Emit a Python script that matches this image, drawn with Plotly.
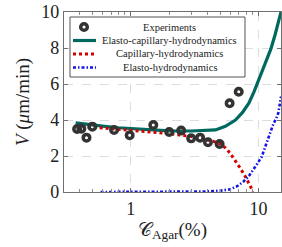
import plotly.graph_objects as go

# Experimental data
exp_x = [0.38, 0.41, 0.45, 0.50, 0.74, 0.98, 1.50, 2.00, 2.48, 2.97, 3.49, 4.02, 4.96, 5.94, 7.00]
exp_v = [3.50, 3.52, 3.02, 3.63, 3.44, 3.15, 3.72, 3.33, 3.41, 2.98, 3.02, 2.76, 2.67, 4.93, 5.57]

# Elasto-capillary-hydrodynamics model
ech_x = [0.37, 0.45, 0.6, 0.8, 1.0, 1.5, 2.0, 3.0, 4.0, 4.6, 5.5, 6.6, 7.5, 8.4, 9.2, 9.8, 10.5, 11.0, 11.7, 12.5, 13.5, 14.3, 15.0]
ech_v = [3.84, 3.76, 3.66, 3.57, 3.52, 3.44, 3.40, 3.39, 3.41, 3.45, 3.65, 4.00, 4.42, 4.93, 5.55, 6.04, 6.55, 6.96, 7.33, 7.95, 8.75, 9.40, 10.0]

# Capillary-hydrodynamics model
ch_x = [0.46, 0.6, 0.8, 1.0, 1.5, 2.0, 3.0, 3.5, 4.0, 4.5, 5.0, 5.5, 6.0, 6.5, 7.2, 7.8, 8.3, 8.7, 9.0]
ch_v = [3.62, 3.55, 3.47, 3.42, 3.32, 3.24, 3.08, 2.98, 2.88, 2.80, 2.68, 2.45, 2.15, 1.80, 1.32, 0.92, 0.57, 0.28, 0.0]

# Elasto-hydrodynamics model
eh_x = [0.58, 1.0, 2.0, 3.0, 4.0, 5.0, 6.0, 6.8, 7.6, 8.4, 9.1, 9.8, 10.6, 11.4, 12.3, 13.1, 13.8, 14.3, 15.0]
eh_v = [0.0, 0.0, 0.0, 0.01, 0.03, 0.07, 0.15, 0.32, 0.57, 0.88, 1.22, 1.58, 1.96, 2.55, 3.26, 3.80, 4.10, 4.40, 5.30]

y_ticks = [0, 2, 4, 6, 8, 10]
x_ticks = [1, 10]
x_minor = [0.3, 0.4, 0.5, 0.6, 0.7, 0.8, 0.9, 2, 3, 4, 5, 6, 7, 8, 9]

legend_names = ["Experiments", "Elasto-capillary-hydrodynamics", "Capillary-hydrodynamics", "Elasto-hydrodynamics"]

GREEN = "#00695f"
RED = "#d40000"
BLUE = "#1414e6"
MK = "#333333"
FONT = "Liberation Serif"

fig = go.Figure()
fig.add_trace(go.Scatter(x=ech_x, y=ech_v, mode="lines", line=dict(color=GREEN, width=3.2), showlegend=False))
fig.add_trace(go.Scatter(x=ch_x, y=ch_v, mode="lines", line=dict(color=RED, width=3, dash="3px,3px"), showlegend=False))
fig.add_trace(go.Scatter(x=eh_x, y=eh_v, mode="lines", line=dict(color=BLUE, width=2.6, dash="3px,2px,1.5px,2px"), showlegend=False))
fig.add_trace(go.Scatter(x=exp_x, y=exp_v, mode="markers",
                         marker=dict(symbol="circle-open", size=6.5, color=MK, line=dict(color=MK, width=3.5)),
                         showlegend=False, cliponaxis=False))

# Manual legend (centered text, as in the original)
L, R, T, B = 64, 281, 12, 192
W, H = R - L, B - T
def px(x):
    return (x - L) / W
def py(y):
    return (B - y) / H

fig.add_shape(type="rect", xref="paper", yref="paper", x0=px(70), x1=px(245), y0=py(77), y1=py(17),
              line=dict(color="#555555", width=1), fillcolor="white", layer="above")
rows = [27, 40.5, 54, 67.5]
fig.add_shape(type="circle", xref="paper", yref="paper", x0=px(80.7), x1=px(87.3), y0=py(rows[0] + 3.3), y1=py(rows[0] - 3.3),
              line=dict(color=MK, width=3.5), fillcolor="white", layer="above")
fig.add_shape(type="line", xref="paper", yref="paper", x0=px(73), x1=px(96), y0=py(rows[1]), y1=py(rows[1]),
              line=dict(color=GREEN, width=3.2), layer="above")
fig.add_shape(type="line", xref="paper", yref="paper", x0=px(73), x1=px(96), y0=py(rows[2]), y1=py(rows[2]),
              line=dict(color=RED, width=3, dash="3px,3px"), layer="above")
fig.add_shape(type="line", xref="paper", yref="paper", x0=px(73), x1=px(96), y0=py(rows[3]), y1=py(rows[3]),
              line=dict(color=BLUE, width=2.6, dash="3px,2px,1.5px,2px"), layer="above")
for name, r in zip(legend_names, rows):
    fig.add_annotation(x=px(169.5), y=py(r), xref="paper", yref="paper", text=name, showarrow=False,
                       xanchor="center", yanchor="middle", font=dict(family=FONT, size=10.5, color="#222222"))

axis_common = dict(showline=True, linecolor="#707070", linewidth=1.2, mirror="allticks",
                   ticks="inside", ticklen=4, tickcolor="#707070",
                   showgrid=True, gridcolor="#dddddd", griddash="dash", gridwidth=1,
                   zeroline=False, tickfont=dict(family=FONT, size=18, color="#222222"))

fig.update_xaxes(type="log", range=[-0.5228787, 1.1760913], tickvals=x_ticks, ticktext=[str(v) for v in x_ticks],
                 minor=dict(tickvals=x_minor, ticks="inside", ticklen=2.5, tickcolor="#909090", showgrid=False),
                 title=dict(text="𝒞<sub>Agar</sub>(%)", font=dict(family=FONT, size=19, color="#222222"), standoff=4),
                 **axis_common)
fig.update_yaxes(range=[0, 10], tickvals=y_ticks,
                 title=dict(text="<i>V</i> (<i>μ</i>m/min)", font=dict(family=FONT, size=19, color="#222222"), standoff=6),
                 **axis_common)

fig.update_layout(width=282, height=247, margin=dict(l=L, r=282 - R, t=T, b=247 - B, autoexpand=False),
                  plot_bgcolor="white", paper_bgcolor="white", showlegend=False,
                  font=dict(family=FONT))
fig.write_html("out.html", config={"displayModeBar": False},
               post_script="document.body.style.margin='0';document.body.style.overflow='hidden';")
